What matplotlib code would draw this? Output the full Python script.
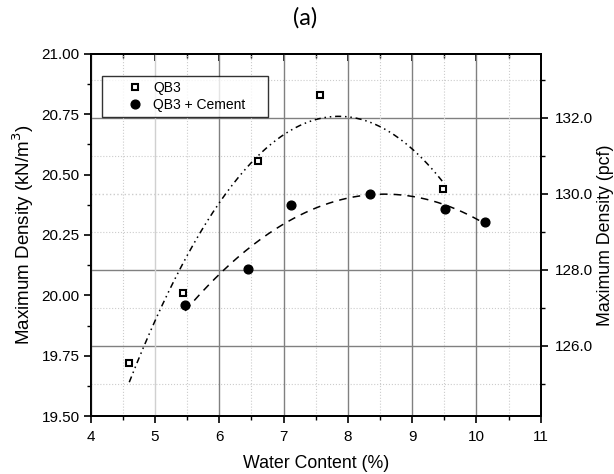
import numpy as np
import matplotlib
matplotlib.use("Agg")
from matplotlib import pyplot as plt
from matplotlib.ticker import MultipleLocator, FormatStrFormatter

plt.rcParams['font.family'] = ['Liberation Sans', 'DejaVu Sans']

# water content (%) and max dry density (kN/m3)
qb3_w = [4.60, 5.44, 6.61, 7.57, 9.48]
qb3_d = [19.72, 20.01, 20.556, 20.83, 20.44]
cem_w = [5.47, 6.44, 7.11, 8.35, 9.51, 10.13]
cem_d = [19.96, 20.11, 20.376, 20.42, 20.356, 20.305]

KN_TO_PCF = 6.3659  # 1 kN/m3 in pcf
ylim_kn = (19.5, 21.0)
xlim = (4, 11)

fig = plt.figure(figsize=(6.14, 4.74), dpi=100)
ax = fig.add_axes([0.1477, 0.1215, 0.7329, 0.7655])
ax2 = ax.twinx()
ax.set_zorder(ax2.get_zorder() + 1)
ax.patch.set_visible(False)

# quadratic fits (like the Origin trend lines)
for w, d, ls in [(qb3_w, qb3_d, (0, (4, 2.5, 1, 2.5, 1, 2.5))),
                 (cem_w, cem_d, (0, (5, 4)))]:
    p = np.polyfit(w, d, 2)
    xx = np.linspace(min(w), max(w), 200)
    ax.plot(xx, np.polyval(p, xx), color='black', lw=1.1, linestyle=ls, zorder=2)

ax.plot(qb3_w, qb3_d, linestyle='none', marker='s', ms=5, mfc='white',
        mec='black', mew=1.5, label='QB3', zorder=3)
ax.plot(cem_w, cem_d, linestyle='none', marker='o', ms=6.3, mfc='black',
        mec='black', label='QB3 + Cement', zorder=3)

ax.set_xlim(*xlim)
ax.set_ylim(*ylim_kn)
ax2.set_ylim(ylim_kn[0] * KN_TO_PCF, ylim_kn[1] * KN_TO_PCF)

ax.xaxis.set_major_locator(MultipleLocator(1))
ax.xaxis.set_minor_locator(MultipleLocator(0.5))
ax.yaxis.set_major_locator(MultipleLocator(0.25))
ax.yaxis.set_minor_locator(MultipleLocator(0.125))
ax.yaxis.set_major_formatter(FormatStrFormatter('%.2f'))
ax2.yaxis.set_major_locator(MultipleLocator(2))
ax2.yaxis.set_minor_locator(MultipleLocator(1))
ax2.yaxis.set_major_formatter(FormatStrFormatter('%.1f'))

ax.tick_params(axis='both', which='major', labelsize=11, length=5, width=1.2,
               direction='out', pad=3)
ax.tick_params(axis='x', which='major', pad=5)
ax.tick_params(axis='both', which='minor', length=3, width=1.0, direction='out')
ax2.tick_params(axis='y', which='major', labelsize=11, length=5, width=1.2, pad=5)
ax2.tick_params(axis='y', which='minor', length=3, width=1.0)

# top axis: inward ticks, no labels
top = ax.secondary_xaxis('top')
top.xaxis.set_major_locator(MultipleLocator(1))
top.xaxis.set_minor_locator(MultipleLocator(0.5))
top.tick_params(which='major', direction='in', length=5, width=1.2, labeltop=False)
top.tick_params(which='minor', direction='in', length=3, width=1.0)

for a in (ax, ax2):
    for s in a.spines.values():
        s.set_linewidth(1.3)
top.spines['top'].set_linewidth(1.3)

# grids
ax.grid(axis='x', which='major', color='#808080', lw=1.0, ls='-')
ax.grid(axis='x', which='minor', color='#cccccc', lw=0.8, ls=':')
ax2.grid(axis='y', which='major', color='#808080', lw=1.0, ls='-')
ax2.grid(axis='y', which='minor', color='#cccccc', lw=0.8, ls=':')

fig.canvas.draw()
for t in ax.xaxis.get_major_ticks():
    if abs(t.get_loc() - 5) < 1e-6:
        t.gridline.set_color('#d0d0d0')
for t in ax2.yaxis.get_major_ticks():
    if abs(t.get_loc() - 130) < 1e-6:
        t.gridline.set_color('#cccccc')
        t.gridline.set_linestyle(':')

ax.set_xlabel('Water Content (%)', fontsize=12.8, labelpad=8)
ax.set_ylabel('Maximum Density (kN/m$^3$)', fontsize=13.5, labelpad=4)
ax2.set_ylabel('Maximum Density (pcf)', fontsize=12.8, labelpad=3)

leg = ax.legend(loc='upper left', bbox_to_anchor=(0.026, 0.838, 0.367, 0.1),
                mode='expand', fontsize=10, frameon=True, fancybox=False,
                edgecolor='black', borderaxespad=0, handlelength=4,
                handletextpad=-0.7, borderpad=0.35, labelspacing=0.2)
leg.get_frame().set_linewidth(1.0)

fig.text(0.497, 0.963, '(a)', ha='center', va='center', fontsize=17,
         family=['Lato', 'DejaVu Sans'])

fig.savefig('out.png', dpi=100)
